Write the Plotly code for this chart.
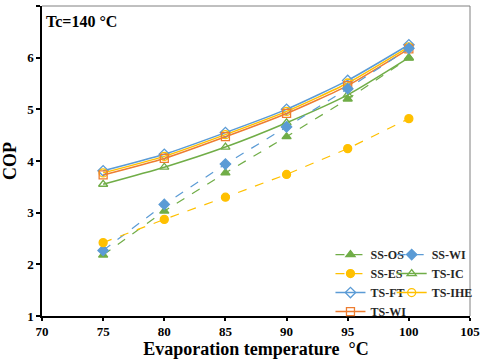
import plotly.graph_objects as go

evap_temp = [75, 80, 85, 90, 95, 100]

ss_os = [2.18, 3.03, 3.77, 4.47, 5.20, 5.99]
ss_wi = [2.27, 3.16, 3.94, 4.66, 5.40, 6.18]
ss_es = [2.42, 2.87, 3.30, 3.74, 4.24, 4.82]
ts_ic = [3.55, 3.88, 4.27, 4.74, 5.28, 6.00]
ts_ft = [3.81, 4.13, 4.55, 5.00, 5.56, 6.25]
ts_ihe = [3.77, 4.09, 4.51, 4.96, 5.51, 6.21]
ts_wi = [3.73, 4.05, 4.47, 4.92, 5.46, 6.17]

x_ticks = [70, 75, 80, 85, 90, 95, 100, 105]
y_ticks = [1, 2, 3, 4, 5, 6, 7]

GREEN = "#70AD47"
BLUE = "#5B9BD5"
YELLOW = "#FFC000"
ORANGE = "#ED7D31"
FONT = "Liberation Serif"

fig = go.Figure()

def add(name, y, color, symbol, dashed, legend, rank):
    fig.add_trace(go.Scatter(
        x=evap_temp, y=y, name=name, mode="lines+markers",
        line=dict(color=color, width=1.2 if dashed else 1.5,
                  dash="dash" if dashed else "solid",
                  shape="linear" if dashed else "spline", smoothing=0.6),
        marker=dict(symbol=symbol, size=8,
                    color=color, line=dict(color=color, width=1.3)),
        legend=legend, legendrank=rank,
    ))

# drawing order: TS first, SS on top
add("TS-IC", ts_ic, GREEN, "triangle-up-open", False, "legend2", 2)
add("TS-FT", ts_ft, BLUE, "diamond-open", False, "legend", 3)
add("TS-IHE", ts_ihe, YELLOW, "circle-open", False, "legend2", 3)
add("TS-WI", ts_wi, ORANGE, "square-open", False, "legend", 4)
add("SS-OS", ss_os, GREEN, "triangle-up", True, "legend", 1)
add("SS-WI", ss_wi, BLUE, "diamond", True, "legend2", 1)
add("SS-ES", ss_es, YELLOW, "circle", True, "legend", 2)

legend_common = dict(
    orientation="v", yanchor="top", xanchor="left",
    bgcolor="rgba(0,0,0,0)", borderwidth=0,
    font=dict(family=FONT, size=12, color="#262626", weight=700),
    itemwidth=30, tracegroupgap=0,
)

fig.update_layout(
    width=484, height=360,
    margin=dict(l=42, r=10, t=6, b=44),
    paper_bgcolor="white", plot_bgcolor="white",
    font=dict(family=FONT, color="black"),
    legend=dict(x=0.674, y=0.245, **legend_common),
    legend2=dict(x=0.817, y=0.245, **legend_common),
    xaxis=dict(
        range=[70, 105],
        tickvals=x_ticks, ticktext=[f"<b>{v}</b>" for v in x_ticks],
        showgrid=False, zeroline=False,
        showline=True, linecolor="black", linewidth=1.5,
        ticks="outside", ticklen=3, tickcolor="black", tickwidth=1.5,
        tickfont=dict(family=FONT, size=13, color="black"),
        title=dict(text="<b>Evaporation temperature\u00a0\u00a0°C</b>",
                   font=dict(family=FONT, size=18, color="black"),
                   standoff=0),
        automargin=False,
    ),
    yaxis=dict(
        range=[1, 7],
        tickvals=y_ticks, ticktext=[f"<b>{v}</b>" for v in y_ticks],
        showgrid=False, zeroline=False,
        showline=True, linecolor="black", linewidth=1.5,
        ticks="outside", ticklen=4, tickcolor="black", tickwidth=1.5,
        tickfont=dict(family=FONT, size=13, color="black"),
        title=dict(text="<b>COP</b>",
                   font=dict(family=FONT, size=18, color="black"),
                   standoff=10),
        automargin=False,
    ),
    annotations=[dict(
        text="<b>Tc=140 °C</b>", xref="paper", yref="paper", x=0.005, y=0.985,
        xanchor="left", yanchor="top", showarrow=False,
        font=dict(family=FONT, size=16, color="black"),
    )],
    shapes=[
        dict(type="line", xref="paper", yref="paper", x0=0, x1=1, y0=1, y1=1,
             line=dict(color="#808080", width=1)),
        dict(type="line", xref="paper", yref="paper", x0=1, x1=1, y0=0, y1=1,
             line=dict(color="#808080", width=1)),
    ],
)

fig.write_html("out.html",
               config={"displayModeBar": False},
               post_script="document.body.style.margin='0';document.body.style.overflow='hidden';")
